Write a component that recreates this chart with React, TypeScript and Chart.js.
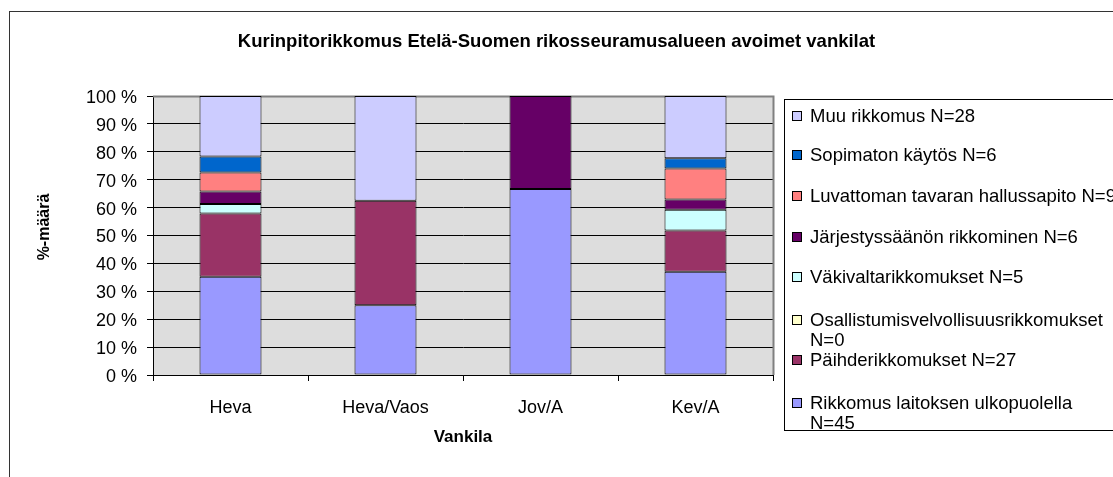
import React, { useEffect, useRef } from "react";
import { Chart, registerables } from "chart.js";

Chart.register(...registerables);

const chartTitle = "Kurinpitorikkomus Etelä-Suomen rikosseuramusalueen avoimet vankilat";
const xAxisTitle = "Vankila";
const yAxisTitle = "%-määrä";

const categories = ["Heva", "Heva/Vaos", "Jov/A", "Kev/A"];

// Series, bottom of the stack first (percent of each prison's total)
const seriesNames = [
  "Rikkomus laitoksen ulkopuolella\nN=45",
  "Päihderikkomukset N=27",
  "Osallistumisvelvollisuusrikkomukset\nN=0",
  "Väkivaltarikkomukset N=5",
  "Järjestyssäänön rikkominen N=6",
  "Luvattoman tavaran hallussapito N=9",
  "Sopimaton käytös N=6",
  "Muu rikkomus N=28",
];

const rikkomusUlkopuolella = [35.2, 25.0, 66.7, 37.0];
const paihderikkomukset = [22.7, 37.5, 0, 14.8];
const osallistumis = [0, 0, 0, 0];
const vakivalta = [3.4, 0, 0, 7.4];
const jarjestys = [4.5, 0, 33.3, 3.7];
const luvaton = [6.8, 0, 0, 11.1];
const sopimaton = [5.7, 0, 0, 3.7];
const muuRikkomus = [21.7, 37.5, 0, 22.3];

const seriesValues = [
  rikkomusUlkopuolella,
  paihderikkomukset,
  osallistumis,
  vakivalta,
  jarjestys,
  luvaton,
  sopimaton,
  muuRikkomus,
];

const yTickValues = [0, 10, 20, 30, 40, 50, 60, 70, 80, 90, 100];

const seriesColors = [
  "#9999FF",
  "#993366",
  "#FFFFCC",
  "#CCFFFF",
  "#660066",
  "#FF8080",
  "#0066CC",
  "#CCCCFF",
];

const FONT = '"Liberation Sans", Arial, sans-serif';
const W = 1113;
const H = 477;

// legend first-line y positions, top item first (legend is drawn in reverse order)
const legendLineY = [116, 155, 196, 237, 277, 320, 360, 403];

const decorPlugin = {
  id: "decor",
  beforeDraw(chart: any) {
    const { ctx, chartArea } = chart;
    ctx.save();
    ctx.fillStyle = "#ffffff";
    ctx.fillRect(0, 0, chart.width, chart.height);
    ctx.fillStyle = "#DDDDDD";
    ctx.fillRect(chartArea.left, chartArea.top, chartArea.right - chartArea.left, chartArea.bottom - chartArea.top);
    ctx.restore();
  },
  beforeDatasetsDraw(chart: any) {
    const { ctx, chartArea } = chart;
    ctx.save();
    ctx.strokeStyle = "#808080";
    ctx.lineWidth = 2;
    ctx.beginPath();
    ctx.moveTo(Math.round(chartArea.left), Math.round(chartArea.top) + 0.5);
    ctx.lineTo(Math.round(chartArea.right) + 0.5, Math.round(chartArea.top) + 0.5);
    ctx.lineTo(Math.round(chartArea.right) + 0.5, Math.round(chartArea.bottom));
    ctx.stroke();
    ctx.restore();
  },
  afterDraw(chart: any) {
    const { ctx, chartArea } = chart;
    ctx.save();
    // outer chart frame
    ctx.strokeStyle = "#333333";
    ctx.lineWidth = 1;
    ctx.strokeRect(9.5, 11.5, 1300, 800);

    // title
    ctx.fillStyle = "#000";
    ctx.textAlign = "center";
    ctx.textBaseline = "middle";
    ctx.font = `bold 18.5px ${FONT}`;
    ctx.fillText(chartTitle, W / 2, 42);

    // x axis title
    ctx.font = `bold 17px ${FONT}`;
    ctx.fillText(xAxisTitle, (chartArea.left + chartArea.right) / 2, 437);

    // y axis title
    ctx.save();
    ctx.translate(45, 227);
    ctx.rotate(-Math.PI / 2);
    ctx.font = `bold 16px ${FONT}`;
    ctx.fillText(yAxisTitle, 0, 0);
    ctx.restore();

    // legend
    ctx.fillStyle = "#ffffff";
    ctx.fillRect(784.5, 99.5, 600, 331);
    ctx.strokeStyle = "#000";
    ctx.strokeRect(784.5, 99.5, 600, 331);
    ctx.font = `18.5px ${FONT}`;
    ctx.textAlign = "left";
    ctx.textBaseline = "middle";
    const n = seriesNames.length;
    for (let i = 0; i < n; i++) {
      const si = n - 1 - i;
      const y = legendLineY[i];
      ctx.fillStyle = seriesColors[si];
      ctx.fillRect(792.5, Math.round(y) - 4.5, 9, 9);
      ctx.strokeStyle = "#000";
      ctx.strokeRect(792.5, Math.round(y) - 4.5, 9, 9);
      ctx.fillStyle = "#000";
      const lines = seriesNames[si].split("\n");
      lines.forEach((ln, k) => ctx.fillText(ln, 810, y + 1 + k * 20));
    }
    ctx.restore();
  },
};

export default function App() {
  const ref = useRef<HTMLCanvasElement | null>(null);
  useEffect(() => {
    if (!ref.current) return;
    const chart = new Chart(ref.current, {
      type: "bar",
      data: {
        labels: categories,
        datasets: seriesValues.map((vals, i) => ({
          label: seriesNames[i].replace("\n", " "),
          data: vals,
          backgroundColor: seriesColors[i],
          borderColor: "#000",
          borderWidth: 1,
          borderSkipped: false,
          categoryPercentage: 1,
          barPercentage: 0.4,
        })),
      },
      options: {
        animation: false,
        responsive: false,
        devicePixelRatio: 1,
        layout: { padding: { left: 20, top: 96, right: W - 773, bottom: 22 } },
        plugins: {
          legend: { display: false },
          title: { display: false },
          tooltip: { enabled: false },
        },
        scales: {
          x: {
            stacked: true,
            grid: { drawOnChartArea: false, drawTicks: true, tickLength: 6, color: "#000", offset: true },
            border: { color: "#000" },
            ticks: { color: "#000", font: { family: FONT, size: 18 }, padding: 16 },
            afterFit: (s: any) => {
              s.height = 80;
            },
          },
          y: {
            stacked: true,
            min: 0,
            max: 100,
            afterBuildTicks: (s: any) => {
              s.ticks = yTickValues.map((v) => ({ value: v }));
            },
            ticks: {
              callback: (v: any) => `${v} %`,
              color: "#000",
              font: { family: FONT, size: 18 },
              padding: 10,
              labelOffset: 2,
            },
            grid: { color: "#000", tickLength: 6, tickColor: "#000" },
            border: { color: "#000" },
            afterFit: (s: any) => {
              s.width = 133;
            },
          },
        },
      },
      plugins: [decorPlugin],
    } as any);
    return () => chart.destroy();
  }, []);
  return (
    <div style={{ position: "fixed", left: 0, top: 0, width: W, height: H, background: "#fff", overflow: "hidden" }}>
      <canvas ref={ref} width={W} height={H} style={{ width: W, height: H, display: "block" }} />
    </div>
  );
}
